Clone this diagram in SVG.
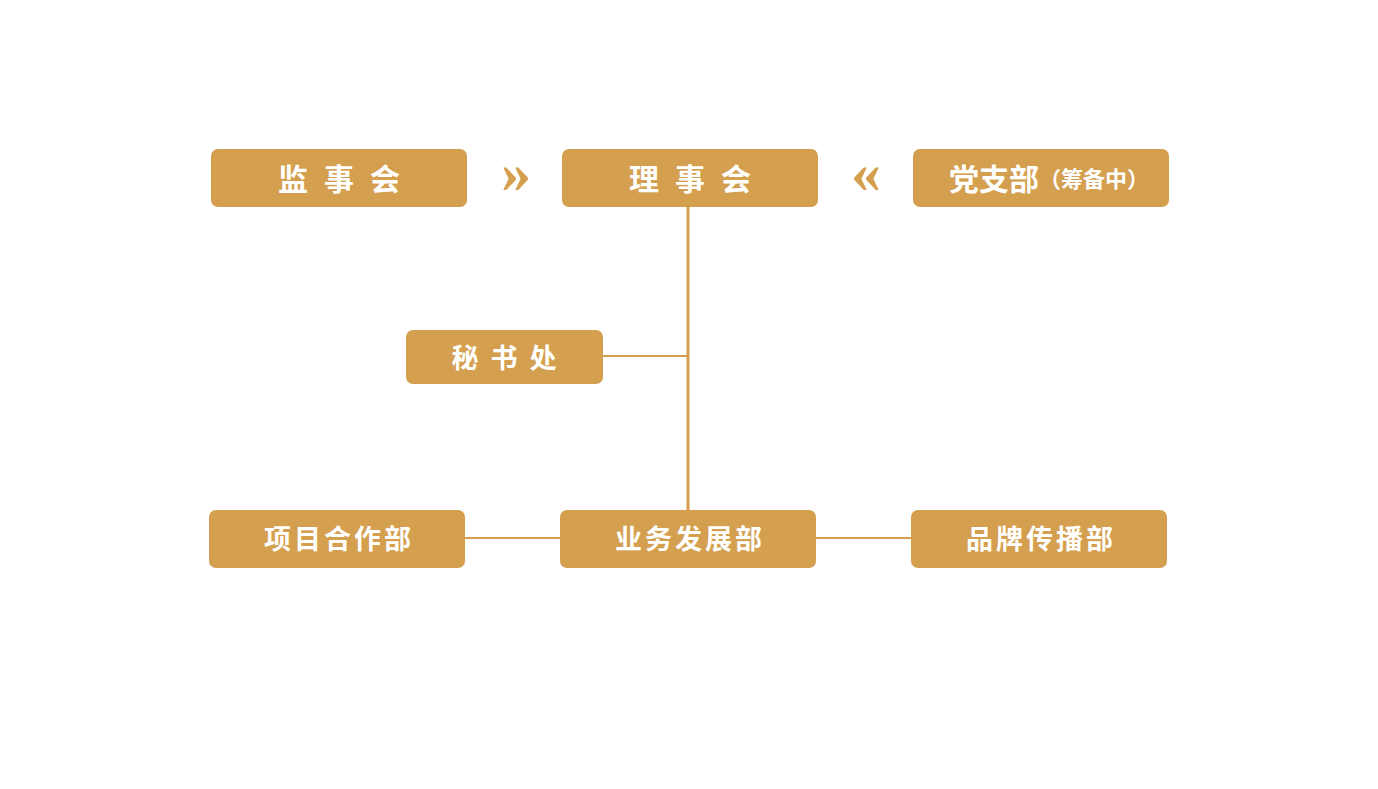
<svg xmlns="http://www.w3.org/2000/svg" width="1378" height="789" viewBox="0 0 1378 789">
<style>
.box{fill:#D49F4F}
.t{fill:#fff;font-family:"Noto Sans CJK SC","Noto Sans",sans-serif;font-weight:bold;text-anchor:middle;dominant-baseline:central}
.ln{stroke:#D49F4F;fill:none}
.ch{fill:#D49F4F;font-family:"Liberation Serif",serif;font-weight:bold;font-size:60px;text-anchor:middle;dominant-baseline:central}
</style>
<rect width="1378" height="789" fill="#fff"/>
<g id="connectors">
<line class="ln" x1="688" y1="207" x2="688" y2="510" stroke-width="3"/>
<line class="ln" x1="603" y1="356" x2="688" y2="356" stroke-width="2"/>
<line class="ln" x1="465" y1="538" x2="560" y2="538" stroke-width="2"/>
<line class="ln" x1="816" y1="538" x2="911" y2="538" stroke-width="2"/>
<text class="ch" x="516" y="172">»</text>
<text class="ch" x="866" y="172">«</text>
</g>
<g id="jianshihui">
<rect class="box" x="211" y="149" width="256" height="58" rx="7"/>
<text class="t" x="347" y="177" font-size="30" letter-spacing="16">监事会</text>
</g>
<g id="lishihui">
<rect class="box" x="562" y="149" width="256" height="58" rx="7"/>
<text class="t" x="698" y="177" font-size="30" letter-spacing="16">理事会</text>
</g>
<g id="dangzhibu">
<rect class="box" x="913" y="149" width="256" height="58" rx="7"/>
<text class="t" x="1049" y="177" font-size="30"><tspan>党支部</tspan><tspan font-size="22">（筹备中）</tspan></text>
</g>
<g id="mishuchu">
<rect class="box" x="406" y="330" width="197" height="54" rx="7"/>
<text class="t" x="510" y="356" font-size="27" letter-spacing="12">秘书处</text>
</g>
<g id="xiangmu">
<rect class="box" x="209" y="510" width="256" height="58" rx="7"/>
<text class="t" x="339" y="537" font-size="27" letter-spacing="3">项目合作部</text>
</g>
<g id="yewu">
<rect class="box" x="560" y="510" width="256" height="58" rx="7"/>
<text class="t" x="690" y="537" font-size="27" letter-spacing="3">业务发展部</text>
</g>
<g id="pinpai">
<rect class="box" x="911" y="510" width="256" height="58" rx="7"/>
<text class="t" x="1041" y="537" font-size="27" letter-spacing="3">品牌传播部</text>
</g>
</svg>
